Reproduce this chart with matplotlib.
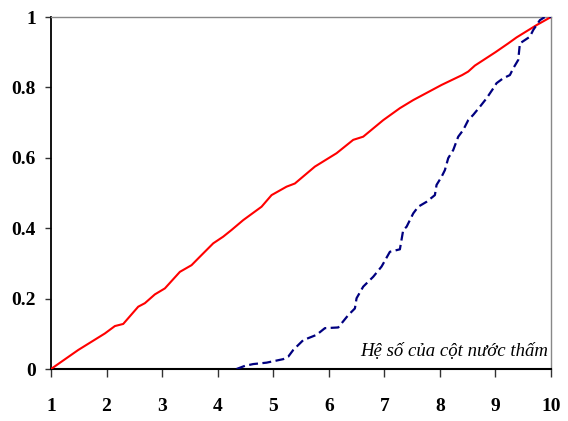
import matplotlib
matplotlib.use("Agg")
import matplotlib.pyplot as plt

# Red curve (cumulative)
red_x = [1.0, 1.49, 1.97, 2.15, 2.30, 2.57, 2.69, 2.87, 3.05, 3.32, 3.53, 3.68, 3.92,
         4.10, 4.25, 4.46, 4.79, 4.97, 5.24, 5.39, 5.75, 6.14, 6.44, 6.62, 6.98, 7.28,
         7.52, 8.03, 8.40, 8.51, 8.63, 9.00, 9.23, 9.38, 9.74, 10.0]
red_y = [0.0, 0.054, 0.101, 0.122, 0.128, 0.177, 0.187, 0.212, 0.229, 0.276, 0.295, 0.319, 0.357,
         0.376, 0.395, 0.423, 0.461, 0.494, 0.518, 0.527, 0.575, 0.613, 0.651, 0.660, 0.707, 0.741,
         0.764, 0.807, 0.835, 0.845, 0.862, 0.900, 0.925, 0.942, 0.977, 1.0]

# Blue dashed curve (cumulative)
blue_x = [4.34, 4.49, 4.64, 4.88, 5.18, 5.27, 5.36, 5.54, 5.78, 5.93, 6.17, 6.35, 6.47, 6.50,
          6.62, 6.80, 6.95, 7.10, 7.28, 7.34, 7.40, 7.52, 7.61, 7.76, 7.91, 7.94, 8.03,
          8.09, 8.15, 8.24, 8.33, 8.42, 8.51, 8.60, 8.72, 8.84, 8.96, 9.02, 9.14, 9.26,
          9.32, 9.41, 9.44, 9.62, 9.68, 9.74, 9.80, 9.89, 10.0]
blue_y = [0.0, 0.009, 0.014, 0.018, 0.028, 0.035, 0.054, 0.082, 0.097, 0.116, 0.118, 0.153, 0.172, 0.201,
          0.234, 0.262, 0.291, 0.333, 0.340, 0.395, 0.404, 0.442, 0.461, 0.475, 0.494, 0.523, 0.546,
          0.565, 0.599, 0.622, 0.660, 0.679, 0.707, 0.722, 0.745, 0.769, 0.797, 0.812, 0.826, 0.835,
          0.854, 0.878, 0.925, 0.944, 0.963, 0.977, 0.991, 1.0, 1.0]

x_ticks = [1, 2, 3, 4, 5, 6, 7, 8, 9, 10]
y_ticks = [0, 0.2, 0.4, 0.6, 0.8, 1]
y_labels = ["0", "0.2", "0.4", "0.6", "0.8", "1"]
annotation = "Hệ số của cột nước thấm"

fig = plt.figure(figsize=(5.68, 4.21), dpi=100)
ax = fig.add_axes([51/568, 1-369/421, 500/568, 352/421])

ax.plot(red_x, red_y, color="#ff0000", lw=1.5, zorder=3)
ln, = ax.plot(blue_x, blue_y, color="#000080", lw=1.6, zorder=3)
ln.set_dashes((4, 2))

ax.set_xlim(1, 10)
ax.set_ylim(0, 1)
ax.set_xticks(x_ticks)
ax.set_xticklabels([str(t) for t in x_ticks])
ax.set_yticks(y_ticks)
ax.set_yticklabels(y_labels)

serif = ["Liberation Serif", "DejaVu Serif"]
for lab in ax.get_xticklabels() + ax.get_yticklabels():
    lab.set_family(serif)
    lab.set_fontweight("bold")
    lab.set_fontsize(14)

ax.tick_params(axis="x", direction="out", length=6, width=1, color="#333333", pad=15)
ax.tick_params(axis="y", direction="out", length=4, width=1, color="#333333", pad=7)

ax.spines["left"].set_color("black")
ax.spines["left"].set_linewidth(1.3)
ax.spines["bottom"].set_color("black")
ax.spines["bottom"].set_linewidth(1.5)
ax.spines["top"].set_color("#888888")
ax.spines["top"].set_linewidth(1.0)
ax.spines["right"].set_color("#888888")
ax.spines["right"].set_linewidth(1.0)

ax.text(0.995, 0.05, annotation, transform=ax.transAxes, ha="right", va="center",
        family=serif, style="italic", fontsize=13.5)

fig.savefig("out.png", dpi=100)
